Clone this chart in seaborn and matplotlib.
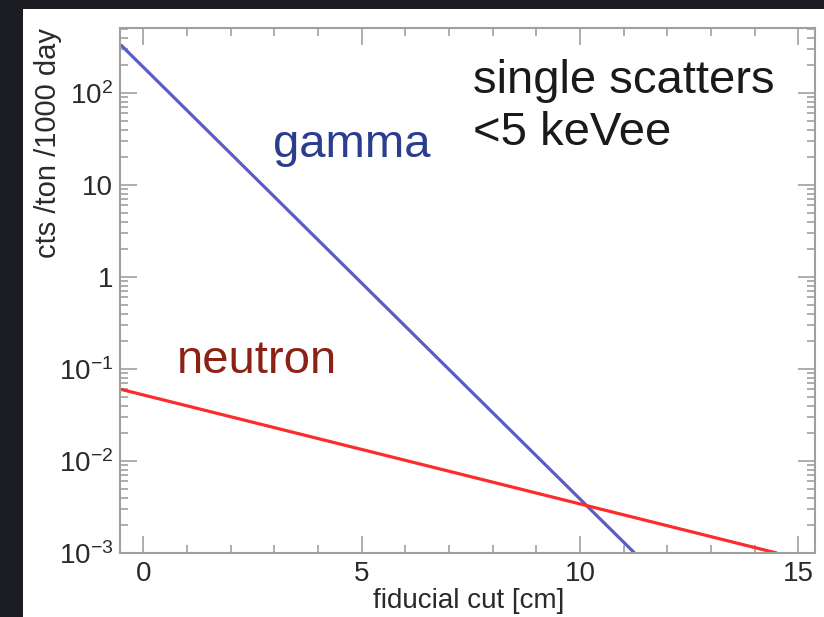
import numpy as np
import pandas as pd
import matplotlib
matplotlib.use("Agg")
import matplotlib.pyplot as plt
from matplotlib.patches import Rectangle
from matplotlib.ticker import FixedLocator, FixedFormatter, MultipleLocator, LogLocator, NullFormatter
import seaborn as sns

# end points of each background curve (straight on the log scale)
gamma_cut = [-0.5, 11.25]
gamma_rate = [330.0, 1e-3]
neutron_cut = [-0.5, 14.5]
neutron_rate = [0.06, 1e-3]

y_ticks = [1e-3, 1e-2, 1e-1, 1, 10, 100]
y_labels = ["$10^{-3}$", "$10^{-2}$", "$10^{-1}$", "1", "10", "$10^{2}$"]
x_ticks = [0, 5, 10, 15]

df = pd.concat([
    pd.DataFrame({"cut": gamma_cut, "rate": gamma_rate, "src": "gamma"}),
    pd.DataFrame({"cut": neutron_cut, "rate": neutron_rate, "src": "neutron"}),
])

sns.set_style("ticks")
plt.rcParams["font.family"] = ["Liberation Sans", "DejaVu Sans"]
plt.rcParams["mathtext.fontset"] = "custom"
plt.rcParams["mathtext.rm"] = "Liberation Sans"
plt.rcParams["mathtext.it"] = "Liberation Sans"

fig = plt.figure(figsize=(8.24, 6.17), dpi=100)
fig.patch.set_facecolor("#1b1d22")
# white slide panel
fig.patches.append(Rectangle((23 / 824, 0), 1, 1 - 9 / 617, transform=fig.transFigure,
                             facecolor="white", edgecolor="none", zorder=-10))

ax = fig.add_axes([120 / 824, 1 - 553 / 617, (815 - 120) / 824, (553 - 28) / 617])
ax.set_zorder(5)
sns.lineplot(data=df, x="cut", y="rate", hue="src",
             palette={"gamma": "#5a5ec4", "neutron": "#ff2b2b"},
             linewidth=2.3, legend=False, ax=ax)

ax.set_yscale("log")
ax.set_ylim(1e-3, 510)
ax.set_xlim(-0.53, 15.38)

ax.yaxis.set_major_locator(FixedLocator(y_ticks))
ax.yaxis.set_major_formatter(FixedFormatter(y_labels))
ax.yaxis.set_minor_locator(LogLocator(base=10, subs=np.arange(2, 10)))
ax.yaxis.set_minor_formatter(NullFormatter())
ax.xaxis.set_major_locator(FixedLocator(x_ticks))
ax.xaxis.set_minor_locator(MultipleLocator(1))

grey = "#a0a0a0"
for s in ax.spines.values():
    s.set_color(grey)
    s.set_linewidth(1.5)
ax.tick_params(which="both", direction="in", top=True, right=True, color=grey, width=1.2,
               labelsize=20, labelcolor="#2a2a2a")
ax.tick_params(axis="x", pad=6)
ax.tick_params(axis="y", pad=5)
ax.tick_params(which="major", length=12)
ax.tick_params(which="minor", length=6)

ax.set_xlabel("fiducial cut [cm]", fontsize=20, color="#2a2a2a")
ax.xaxis.set_label_coords(0.502, -0.0667)
ax.xaxis.label.set_va("top")
ax.set_ylabel("cts /ton /1000 day", fontsize=21, color="#2a2a2a")
ax.yaxis.set_label_coords(-0.083, 0.78)

txt = dict(transform=ax.transAxes, fontsize=34, va="baseline", ha="left")
ax.text(0.508, 0.876, "single scatters", color="#1a1a1a", **txt)
ax.text(0.508, 0.777, "<5 keVee", color="#1a1a1a", **txt)
ax.text(0.220, 0.754, "gamma", color="#2b3d8f", **txt)
ax.text(0.082, 0.343, "neutron", color="#8c2216", **txt)

fig.savefig("out.png", dpi=100, facecolor=fig.get_facecolor())
